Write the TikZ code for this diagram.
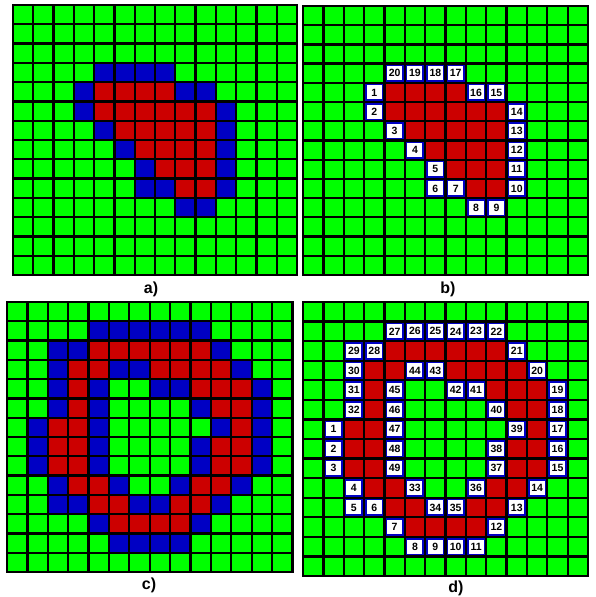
\documentclass[tikz,border=0pt]{standalone}
\usepackage{fontspec}
\setmainfont{Liberation Sans}
\definecolor{cellgreen}{RGB}{0,255,0}
\definecolor{cellred}{RGB}{204,0,0}
\definecolor{cellblue}{RGB}{0,0,196}

\begin{document}
\begin{tikzpicture}[
    x=1pt,
    y=-1pt,
    grid line/.style={
      black,
      line width=2.3pt,
      line cap=rect
    },
    red cell/.style={
      fill=cellred
    },
    blue cell/.style={
      fill=cellblue
    },
    number cell/.style={
      rectangle,
      fill=white,
      inner sep=0pt,
      minimum width=15pt,
      minimum height=14pt,
      font=\bfseries\fontsize{10.5}{12}\selectfont
    },
    panel label/.style={
      font=\bfseries\fontsize{16}{19}\selectfont
    }
]
\useasboundingbox (0,0) rectangle (595,597);

% Panel a: one region and its boundary cells.
\begin{scope}[shift={(13,5)},x=20.29pt,y=-19.29pt]
  \fill[cellgreen] (0,0) rectangle (14,14);
  \foreach \r/\cols in {4/{4,5,6,7},5/{4,5,6,7,8,9},6/{5,6,7,8,9},
                        7/{6,7,8,9},8/{7,8,9},9/{8,9}}
    \foreach \c in \cols
      \fill[red cell] (\c,\r) rectangle ++(1,1);
  \foreach \r/\cols in {3/{4,5,6,7},4/{3,8,9},5/{3,10},6/{4,10},
                        7/{5,10},8/{6,10},9/{6,7,10},10/{8,9}}
    \foreach \c in \cols
      \fill[blue cell] (\c,\r) rectangle ++(1,1);
  \foreach \i in {0,...,14}
    \draw[grid line] (\i,0) -- (\i,14) (0,\i) -- (14,\i);
\end{scope}
\node[panel label] (la) at (151,289) {a)};

% Panel b: the boundary cells numbered in order.
\begin{scope}[shift={(303,6)},x=20.36pt,y=-19.21pt]
  \fill[cellgreen] (0,0) rectangle (14,14);
  \foreach \r/\cols in {4/{4,5,6,7},5/{4,5,6,7,8,9},6/{5,6,7,8,9},
                        7/{6,7,8,9},8/{7,8,9},9/{8,9}}
    \foreach \c in \cols
      \fill[red cell] (\c,\r) rectangle ++(1,1);
  \foreach \c/\r/\n in {3/4/1,3/5/2,4/6/3,5/7/4,6/8/5,6/9/6,7/9/7,
                        8/10/8,9/10/9,10/9/10,10/8/11,10/7/12,10/6/13,
                        10/5/14,9/4/15,8/4/16,7/3/17,6/3/18,5/3/19,4/3/20}
    \fill[blue cell] (\c,\r) rectangle ++(1,1);
  \foreach \i in {0,...,14}
    \draw[grid line] (\i,0) -- (\i,14) (0,\i) -- (14,\i);
  \foreach \c/\r/\n in {3/4/1,3/5/2,4/6/3,5/7/4,6/8/5,6/9/6,7/9/7,
                        8/10/8,9/10/9,10/9/10,10/8/11,10/7/12,10/6/13,
                        10/5/14,9/4/15,8/4/16,7/3/17,6/3/18,5/3/19,4/3/20}
    \node[number cell] (b\n) at (\c+0.5,\r+0.5) {\n};
\end{scope}
\node[panel label] (lb) at (448,289) {b)};

% Panel c: a ring with a hole.
\begin{scope}[shift={(7,302)},x=20.39pt,y=-19.29pt]
  \fill[cellgreen] (0,0) rectangle (14,14);
  \foreach \r/\cols in {2/{4,5,6,7,8,9},3/{3,4,7,8,9,10},4/{3,9,10,11},
                        5/{3,10,11},6/{2,3,11},7/{2,3,10,11},8/{2,3,10,11},
                        9/{3,4,9,10},10/{4,5,8,9},11/{5,6,7,8}}
    \foreach \c in \cols
      \fill[red cell] (\c,\r) rectangle ++(1,1);
  \foreach \r/\cols in {1/{4,5,6,7,8,9},2/{2,3,10},3/{2,5,6,11},
                        4/{2,4,7,8,12},5/{2,4,9,12},6/{1,4,10,12},
                        7/{1,4,9,12},8/{1,4,9,12},9/{2,5,8,11},
                        10/{2,3,6,7,10},11/{4,9},12/{5,6,7,8}}
    \foreach \c in \cols
      \fill[blue cell] (\c,\r) rectangle ++(1,1);
  \foreach \i in {0,...,14}
    \draw[grid line] (\i,0) -- (\i,14) (0,\i) -- (14,\i);
\end{scope}
\node[panel label] (lc) at (149,585) {c)};

% Panel d: outer then inner boundary, numbered.
\begin{scope}[shift={(303,302)},x=20.36pt,y=-19.57pt]
  \fill[cellgreen] (0,0) rectangle (14,14);
  \foreach \r/\cols in {2/{4,5,6,7,8,9},3/{3,4,7,8,9,10},4/{3,9,10,11},
                        5/{3,10,11},6/{2,3,11},7/{2,3,10,11},8/{2,3,10,11},
                        9/{3,4,9,10},10/{4,5,8,9},11/{5,6,7,8}}
    \foreach \c in \cols
      \fill[red cell] (\c,\r) rectangle ++(1,1);
  \foreach \c/\r/\n in {1/6/1,1/7/2,1/8/3,2/9/4,2/10/5,3/10/6,4/11/7,
                        5/12/8,6/12/9,7/12/10,8/12/11,9/11/12,10/10/13,
                        11/9/14,12/8/15,12/7/16,12/6/17,12/5/18,12/4/19,
                        11/3/20,10/2/21,9/1/22,8/1/23,7/1/24,6/1/25,
                        5/1/26,4/1/27,3/2/28,2/2/29,2/3/30,2/4/31,2/5/32,
                        5/9/33,6/10/34,7/10/35,8/9/36,9/8/37,9/7/38,
                        10/6/39,9/5/40,8/4/41,7/4/42,6/3/43,5/3/44,
                        4/4/45,4/5/46,4/6/47,4/7/48,4/8/49}
    \fill[blue cell] (\c,\r) rectangle ++(1,1);
  \foreach \i in {0,...,14}
    \draw[grid line] (\i,0) -- (\i,14) (0,\i) -- (14,\i);
  \foreach \c/\r/\n in {1/6/1,1/7/2,1/8/3,2/9/4,2/10/5,3/10/6,4/11/7,
                        5/12/8,6/12/9,7/12/10,8/12/11,9/11/12,10/10/13,
                        11/9/14,12/8/15,12/7/16,12/6/17,12/5/18,12/4/19,
                        11/3/20,10/2/21,9/1/22,8/1/23,7/1/24,6/1/25,
                        5/1/26,4/1/27,3/2/28,2/2/29,2/3/30,2/4/31,2/5/32,
                        5/9/33,6/10/34,7/10/35,8/9/36,9/8/37,9/7/38,
                        10/6/39,9/5/40,8/4/41,7/4/42,6/3/43,5/3/44,
                        4/4/45,4/5/46,4/6/47,4/7/48,4/8/49}
    \node[number cell] (d\n) at (\c+0.5,\r+0.5) {\n};
\end{scope}
\node[panel label] (ld) at (456,588) {d)};

\end{tikzpicture}
\end{document}
